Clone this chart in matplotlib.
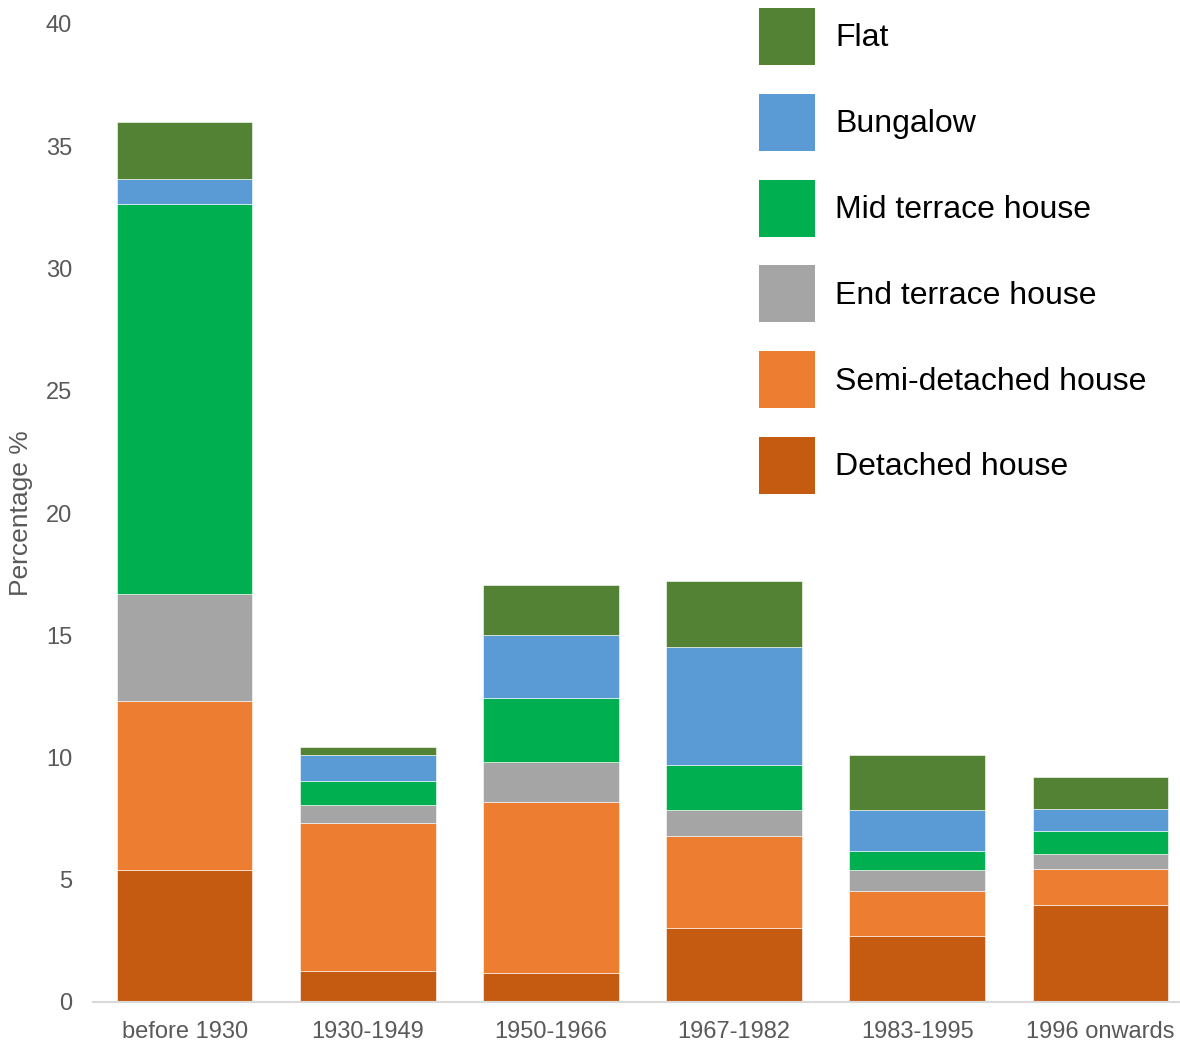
import numpy as np
import matplotlib.pyplot as plt
from matplotlib.patches import Patch

plt.rcParams['font.family'] = ['Liberation Sans', 'DejaVu Sans']

periods = ['before 1930', '1930-1949', '1950-1966', '1967-1982', '1983-1995', '1996 onwards']
detached = [5.4, 1.27, 1.19, 3.03, 2.70, 3.97]
semi = [6.9, 6.05, 6.99, 3.76, 1.84, 1.47]
end_terrace = [4.4, 0.74, 1.64, 1.06, 0.86, 0.61]
mid_terrace = [15.95, 0.98, 2.61, 1.84, 0.78, 0.94]
bungalow = [1.0, 1.06, 2.58, 4.83, 1.67, 0.90]
flat = [2.33, 0.33, 2.05, 2.70, 2.25, 1.31]

series = [
    ('Detached house', detached, '#C55A11'),
    ('Semi-detached house', semi, '#ED7D31'),
    ('End terrace house', end_terrace, '#A5A5A5'),
    ('Mid terrace house', mid_terrace, '#00B050'),
    ('Bungalow', bungalow, '#5B9BD5'),
    ('Flat', flat, '#548235'),
]

fig = plt.figure(figsize=(11.8, 10.42), dpi=100)
ax = fig.add_axes([93 / 1180, 40 / 1042, 1099 / 1180, 978 / 1042])

x = np.arange(len(periods))
bottom = np.zeros(len(periods))
for name, vals, col in series:
    ax.bar(x, vals, 0.74, bottom=bottom, color=col, edgecolor='#ffffff', linewidth=0.4, label=name)
    bottom += np.array(vals)

ax.set_xlim(-0.5, 5.5)
ax.set_ylim(0, 40)
ax.set_yticks(range(0, 41, 5))
ax.set_xticks(x)
ax.set_xticklabels(periods)
ax.tick_params(axis='both', length=0, labelsize=17, labelcolor='#595959')
ax.tick_params(axis='y', pad=15)
ax.tick_params(axis='x', pad=14)
for s in ['top', 'right', 'left']:
    ax.spines[s].set_visible(False)
ax.spines['bottom'].set_color('#D9D9D9')
ax.spines['bottom'].set_linewidth(1.5)

ax.set_ylabel('Percentage %', fontsize=19, color='#595959')
ax.yaxis.set_label_coords(-0.055, 0.5)

handles = [Patch(facecolor=col, label=name) for name, vals, col in series][::-1]
fig.legend(handles=handles, loc='upper left', bbox_to_anchor=(759 / 1180, 1 - 8 / 1042),
           bbox_transform=fig.transFigure, frameon=False, fontsize=23,
           handlelength=1.75, handleheight=2.37, labelspacing=0.9, handletextpad=0.63,
           borderpad=0, borderaxespad=0)

fig.savefig('out.png', dpi=100)
